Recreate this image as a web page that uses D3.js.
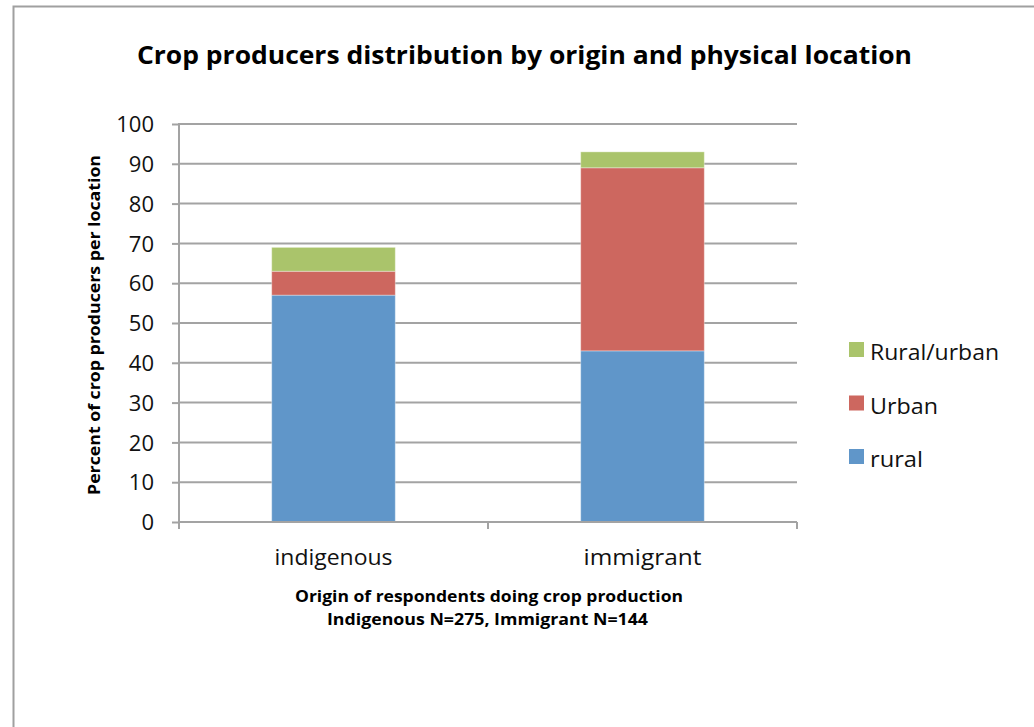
<!DOCTYPE html>
<html>
<head>
<meta charset="utf-8">
<script src="https://cdn.jsdelivr.net/npm/d3@7/dist/d3.min.js"></script>
<style>
  html, body { margin: 0; padding: 0; background: #fff; }
  svg { display: block; font-family: "Open Sans", "DejaVu Sans", sans-serif; }
</style>
</head>
<body>
<svg id="chart" width="1034" height="727"></svg>
<script>
// Origins shown on the x axis
const categories = ["indigenous", "immigrant"];
// Series, stacked bottom to top (percent of crop producers)
const seriesNames = ["rural", "Urban", "Rural/urban"];
const rural = [57, 43];
const urban = [6, 46];
const ruralUrban = [6, 4];
const yTicks = [0, 10, 20, 30, 40, 50, 60, 70, 80, 90, 100];
const colors = ["#6096c9", "#cd675f", "#aac46b"];

const svg = d3.select("#chart");

// chart frame
svg.append("rect")
  .attr("x", 13.5).attr("y", 6.5)
  .attr("width", 1100).attr("height", 800)
  .attr("fill", "#fff").attr("stroke", "#a0a0a0").attr("stroke-width", 2);

const plot = { left: 179, right: 797, top: 124, bottom: 522 };

const x = d3.scaleBand().domain(categories)
  .range([plot.left, plot.right]).paddingInner(0.6).paddingOuter(0.3);
const y = d3.scaleLinear().domain([0, 100]).range([plot.bottom, plot.top]);

// gridlines
svg.append("g")
  .selectAll("line").data(yTicks.filter(d => d > 0)).join("line")
  .attr("x1", plot.left).attr("x2", plot.right)
  .attr("y1", d => y(d)).attr("y2", d => y(d))
  .attr("stroke", "#a3a3a3").attr("stroke-width", 2);

// stacked bars
const rows = categories.map((c, i) => ({ cat: c, rural: rural[i], Urban: urban[i], "Rural/urban": ruralUrban[i] }));
const stack = d3.stack().keys(seriesNames)(rows);
svg.append("g").selectAll("g").data(stack).join("g")
  .attr("fill", (d, i) => colors[i])
  .selectAll("rect").data(d => d).join("rect")
  .attr("x", d => x(d.data.cat))
  .attr("width", x.bandwidth())
  .attr("y", d => y(d[1]))
  .attr("height", d => y(d[0]) - y(d[1]))
  .attr("stroke", "rgba(255,255,255,0.35)").attr("stroke-width", 1);

// y axis
const yAxis = svg.append("g")
  .attr("transform", `translate(${plot.left},0)`)
  .call(d3.axisLeft(y).tickValues(yTicks).tickSize(7).tickPadding(18).tickFormat(d3.format("d")));
yAxis.select(".domain").attr("stroke", "#a3a3a3").attr("stroke-width", 2).attr("d", `M0,${plot.top - 1}V${plot.bottom + 7}`);
yAxis.selectAll(".tick line").attr("stroke", "#a3a3a3").attr("stroke-width", 2);
yAxis.selectAll(".tick text").attr("font-size", 22).attr("fill", "#111")
  .attr("font-family", "'Open Sans', sans-serif").attr("dy", "0.35em");

// x axis
const xAxis = svg.append("g").attr("transform", `translate(0,${plot.bottom})`);
xAxis.append("line").attr("x1", plot.left).attr("x2", plot.right)
  .attr("stroke", "#a3a3a3").attr("stroke-width", 2);
const xTickPos = [plot.left, (plot.left + plot.right) / 2, plot.right];
xAxis.selectAll("line.tk").data(xTickPos).join("line").attr("class", "tk")
  .attr("x1", d => d).attr("x2", d => d).attr("y1", 0).attr("y2", 7)
  .attr("stroke", "#a3a3a3").attr("stroke-width", 2);
xAxis.selectAll("text").data(categories).join("text")
  .attr("x", d => x(d) + x.bandwidth() / 2).attr("y", 43)
  .attr("text-anchor", "middle").attr("font-size", 22).attr("fill", "#111")
  .attr("textLength", 118).attr("lengthAdjust", "spacingAndGlyphs")
  .text(d => d);

// title
svg.append("text").attr("x", 524.5).attr("y", 64)
  .attr("text-anchor", "middle").attr("font-size", 25).attr("font-weight", "bold")
  .attr("fill", "#000").attr("textLength", 775).attr("lengthAdjust", "spacingAndGlyphs")
  .text("Crop producers distribution by origin and physical location");

// x axis title
svg.append("text").attr("x", 489).attr("y", 602)
  .attr("text-anchor", "middle").attr("font-size", 16).attr("font-weight", "bold")
  .attr("fill", "#000").attr("textLength", 388).attr("lengthAdjust", "spacingAndGlyphs")
  .text("Origin of respondents doing crop production");
svg.append("text").attr("x", 487.5).attr("y", 625)
  .attr("text-anchor", "middle").attr("font-size", 16).attr("font-weight", "bold")
  .attr("fill", "#000").attr("textLength", 321).attr("lengthAdjust", "spacingAndGlyphs")
  .text("Indigenous N=275, Immigrant N=144");

// y axis title
svg.append("text").attr("transform", "translate(100,325) rotate(-90)")
  .attr("text-anchor", "middle").attr("font-size", 16).attr("font-weight", "bold")
  .attr("fill", "#000").attr("textLength", 340).attr("lengthAdjust", "spacingAndGlyphs")
  .text("Percent of crop producers per location");

// legend (top to bottom: last series first)
const legendItems = seriesNames.map((n, i) => ({ name: n, color: colors[i] })).reverse();
const legendW = [129, 68, 53];
const leg = svg.append("g").selectAll("g").data(legendItems).join("g")
  .attr("transform", (d, i) => `translate(849,${342 + i * 53.5})`);
leg.append("rect").attr("width", 15).attr("height", 15).attr("fill", d => d.color);
leg.append("text").attr("x", 21).attr("y", 18).attr("font-size", 22).attr("fill", "#111")
  .attr("textLength", (d, i) => legendW[i]).attr("lengthAdjust", "spacingAndGlyphs")
  .text(d => d.name);
</script>
</body>
</html>
